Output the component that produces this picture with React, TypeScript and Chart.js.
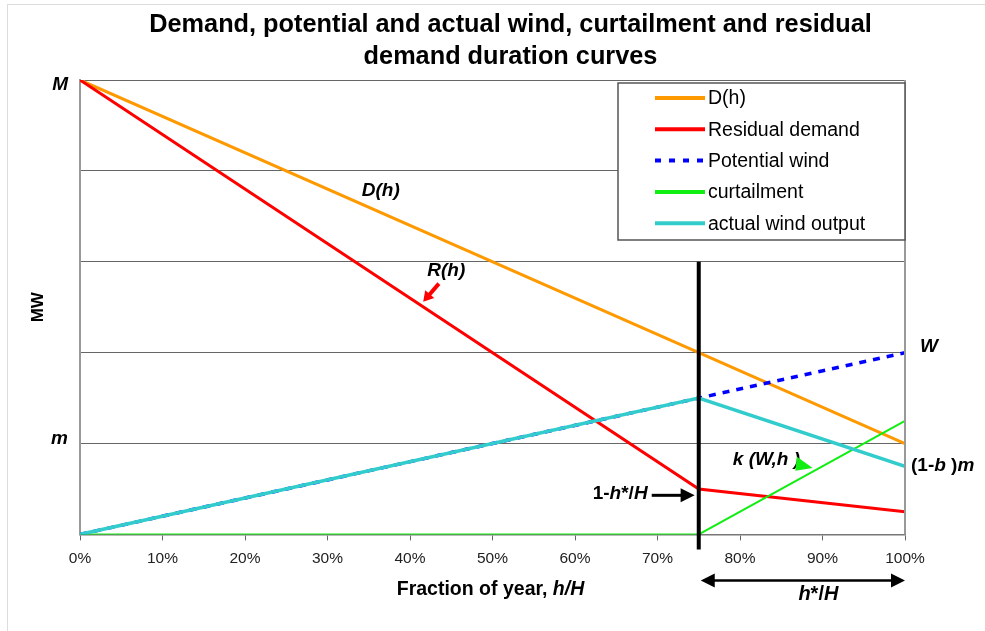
import React, { useEffect, useRef } from 'react';
import { Chart, registerables } from 'chart.js';

Chart.register(...registerables);

const FONT = '"Liberation Sans", Arial, Helvetica, sans-serif';

const titleLines = ['Demand, potential and actual wind, curtailment and residual', 'demand duration curves'];
const xFractions = [0, 0.75, 1];
const demandD = [5, 2, 1];
const residualDemand = [5, 0.5, 0.25];
const potentialWind = [0, 1.5, 2];
const curtailment = [0, 0, 1.25];
const actualWind = [0, 1.5, 0.75];
const xTickLabels = ['0%', '10%', '20%', '30%', '40%', '50%', '60%', '70%', '80%', '90%', '100%'];
const seriesNames = ['D(h)', 'Residual demand', 'Potential wind', 'curtailment', 'actual wind output'];
const seriesColors = ['#FF9900', '#FF0000', '#0000FF', '#11EE11', '#33CCCC'];
const hStar = 0.75;

const toPoints = (ys: number[]) => xFractions.map((x, i) => ({ x, y: ys[i] }));

type Seg = { t: string; i?: boolean };

function drawRich(ctx: CanvasRenderingContext2D, segs: Seg[], x: number, y: number, align: 'left' | 'center' | 'right', size: number) {
  const fontFor = (s: Seg) => `${s.i ? 'italic ' : ''}bold ${size}px ${FONT}`;
  let total = 0;
  const widths = segs.map((s) => {
    ctx.font = fontFor(s);
    const w = ctx.measureText(s.t).width;
    total += w;
    return w;
  });
  let cx = align === 'left' ? x : align === 'center' ? x - total / 2 : x - total;
  ctx.textAlign = 'left';
  ctx.textBaseline = 'middle';
  segs.forEach((s, k) => {
    ctx.font = fontFor(s);
    ctx.fillText(s.t, cx, y);
    cx += widths[k];
  });
}

function drawArrow(ctx: CanvasRenderingContext2D, x1: number, y1: number, x2: number, y2: number, color: string, lw: number, hl: number, hw: number, both = false) {
  const ang = Math.atan2(y2 - y1, x2 - x1);
  const cos = Math.cos(ang);
  const sin = Math.sin(ang);
  ctx.save();
  ctx.strokeStyle = color;
  ctx.fillStyle = color;
  ctx.lineWidth = lw;
  ctx.beginPath();
  const sx = both ? x1 + cos * hl * 0.9 : x1;
  const sy = both ? y1 + sin * hl * 0.9 : y1;
  ctx.moveTo(sx, sy);
  ctx.lineTo(x2 - cos * hl * 0.9, y2 - sin * hl * 0.9);
  ctx.stroke();
  const head = (tx: number, ty: number, c: number, s: number) => {
    ctx.beginPath();
    ctx.moveTo(tx, ty);
    ctx.lineTo(tx - c * hl - s * hw / 2, ty - s * hl + c * hw / 2);
    ctx.lineTo(tx - c * hl + s * hw / 2, ty - s * hl - c * hw / 2);
    ctx.closePath();
    ctx.fill();
  };
  head(x2, y2, cos, sin);
  if (both) head(x1, y1, -cos, -sin);
  ctx.restore();
}

const overlay = {
  id: 'overlay',
  beforeDraw(chart: any) {
    const ctx = chart.ctx as CanvasRenderingContext2D;
    ctx.save();
    ctx.fillStyle = '#ffffff';
    ctx.fillRect(0, 0, chart.width, chart.height);
    ctx.strokeStyle = '#dddddd';
    ctx.lineWidth = 1;
    ctx.beginPath();
    ctx.moveTo(7.5, 5);
    ctx.lineTo(7.5, chart.height);
    ctx.moveTo(7, 4.5);
    ctx.lineTo(chart.width, 4.5);
    ctx.stroke();
    ctx.restore();
  },
  afterDatasetsDraw(chart: any) {
    const ctx = chart.ctx as CanvasRenderingContext2D;
    const xs = chart.scales.x;
    const ys = chart.scales.y;
    const ca = chart.chartArea;
    const px = (v: number) => xs.getPixelForValue(v);
    const py = (v: number) => ys.getPixelForValue(v);
    ctx.save();

    // right border of plot area
    ctx.strokeStyle = '#999999';
    ctx.lineWidth = 2;
    ctx.beginPath();
    ctx.moveTo(ca.right, ca.top);
    ctx.lineTo(ca.right, ca.bottom);
    ctx.stroke();

    // vertical h* marker
    ctx.strokeStyle = '#000000';
    ctx.lineWidth = 4;
    ctx.beginPath();
    ctx.moveTo(px(hStar), py(3));
    ctx.lineTo(px(hStar), ca.bottom + 15);
    ctx.stroke();

    ctx.fillStyle = '#000000';
    const S = 19;
    // M and m
    drawRich(ctx, [{ t: 'M', i: true }], ca.left - 12, py(5) + 5, 'right', S);
    drawRich(ctx, [{ t: 'm', i: true }], ca.left - 12, py(1) - 5, 'right', S);
    // D(h), R(h)
    drawRich(ctx, [{ t: 'D(h)', i: true }], px(0.3645), py(3.78), 'center', S);
    drawRich(ctx, [{ t: 'R(h)', i: true }], px(0.444), py(2.9), 'center', S);
    drawArrow(ctx, px(0.435), py(2.76), px(0.416), py(2.56), '#FF0000', 4, 10, 12);
    // W and (1-b)m
    drawRich(ctx, [{ t: 'W', i: true }], ca.right + 15, py(2.07), 'left', S);
    drawRich(ctx, [{ t: '(1-' }, { t: 'b', i: true }, { t: ' )' }, { t: 'm', i: true }], ca.right + 6, py(0.75), 'left', S);
    // k(W,h)
    drawRich(ctx, [{ t: 'k (W,h )', i: true }], px(0.832), py(0.82), 'center', S);
    ctx.fillStyle = '#11EE11';
    ctx.beginPath();
    ctx.moveTo(px(0.869), py(0.855));
    ctx.lineTo(px(0.867), py(0.70));
    ctx.lineTo(px(0.888), py(0.73));
    ctx.closePath();
    ctx.fill();
    // 1-h*/H
    ctx.fillStyle = '#000000';
    drawRich(ctx, [{ t: '1-' }, { t: 'h', i: true }, { t: '*/' }, { t: 'H', i: true }], px(0.688), py(0.45), 'right', S);
    drawArrow(ctx, px(0.693), py(0.43), px(0.745), py(0.43), '#000000', 3, 14, 14);
    // h*/H double arrow
    drawArrow(ctx, px(hStar) + 2, ca.bottom + 46, px(1), ca.bottom + 46, '#000000', 2.5, 14, 14, true);
    drawRich(ctx, [{ t: 'h', i: true }, { t: '*/' }, { t: 'H', i: true }], px(0.895), ca.bottom + 60, 'center', 20);

    // legend
    const lx = ca.right - 287;
    const ly = ca.top + 3;
    ctx.fillStyle = '#ffffff';
    ctx.fillRect(lx, ly, 287, 157);
    ctx.strokeStyle = '#555555';
    ctx.lineWidth = 1.5;
    ctx.strokeRect(lx, ly, 287, 157);
    seriesNames.forEach((name, k) => {
      const yy = ly + 15 + k * 31.3;
      ctx.strokeStyle = seriesColors[k];
      ctx.lineWidth = 4;
      ctx.setLineDash(k === 2 ? [6, 8] : []);
      ctx.beginPath();
      ctx.moveTo(lx + 37, yy);
      ctx.lineTo(lx + 87, yy);
      ctx.stroke();
      ctx.setLineDash([]);
      ctx.fillStyle = '#000000';
      ctx.font = `19.5px ${FONT}`;
      ctx.textAlign = 'left';
      ctx.textBaseline = 'middle';
      ctx.fillText(name, lx + 90, yy + 1);
    });
    ctx.restore();
  },
  afterDraw(chart: any) {
    const ctx = chart.ctx as CanvasRenderingContext2D;
    const ca = chart.chartArea;
    ctx.save();
    ctx.fillStyle = '#000000';
    ctx.textAlign = 'center';
    ctx.textBaseline = 'middle';
    ctx.font = `bold 25.3px ${FONT}`;
    const cx = chart.width / 2 + 18;
    ctx.fillText(titleLines[0], cx, 25);
    ctx.fillText(titleLines[1], cx, 57);
    // x axis title
    drawRich(ctx, [{ t: 'Fraction of year, ' }, { t: 'h/H', i: true }], (ca.left + ca.right) / 2 - 2, ca.bottom + 55, 'center', 19.5);
    // y axis title
    ctx.translate(38, (ca.top + ca.bottom) / 2);
    ctx.rotate(-Math.PI / 2);
    ctx.font = `bold 17px ${FONT}`;
    ctx.textAlign = 'center';
    ctx.textBaseline = 'middle';
    ctx.fillText('MW', 0, 0);
    ctx.restore();
  },
};

export default function App() {
  const canvasRef = useRef<HTMLCanvasElement | null>(null);

  useEffect(() => {
    if (!canvasRef.current) return;
    const common = { pointRadius: 0, pointHoverRadius: 0, tension: 0, fill: false, borderCapStyle: 'butt' as const };
    const chart = new Chart(canvasRef.current, {
      type: 'line',
      data: {
        datasets: [
          { ...common, label: seriesNames[0], data: toPoints(demandD), borderColor: seriesColors[0], borderWidth: 3, order: 5 },
          { ...common, label: seriesNames[1], data: toPoints(residualDemand), borderColor: seriesColors[1], borderWidth: 3, order: 4 },
          { ...common, label: seriesNames[2], data: toPoints(potentialWind), borderColor: seriesColors[2], borderWidth: 3.5, borderDash: [7, 7], order: 3 },
          { ...common, label: seriesNames[3], data: toPoints(curtailment), borderColor: seriesColors[3], borderWidth: 2, order: 2 },
          { ...common, label: seriesNames[4], data: toPoints(actualWind), borderColor: seriesColors[4], borderWidth: 3.5, order: 1 },
        ],
      },
      options: {
        animation: false,
        responsive: false,
        maintainAspectRatio: false,
        events: [],
        layout: { padding: { left: 80, top: 80, right: 80, bottom: 54 } },
        plugins: { legend: { display: false }, title: { display: false }, tooltip: { enabled: false } },
        scales: {
          x: {
            type: 'linear',
            min: 0,
            max: 1,
            ticks: {
              stepSize: 0.1,
              padding: 9,
              color: '#222222',
              font: { family: FONT, size: 15.5 },
              maxRotation: 0,
              callback: (_v: any, i: number) => xTickLabels[i],
            },
            grid: { drawOnChartArea: false, drawTicks: true, tickLength: 6, color: '#666666' },
            border: { display: true, color: '#777777', width: 1.5 },
          },
          y: {
            type: 'linear',
            min: 0,
            max: 5,
            ticks: { stepSize: 1, display: false },
            grid: { drawTicks: false, color: '#666666', lineWidth: 1 },
            border: { display: true, color: '#999999', width: 2 },
          },
        },
      },
      plugins: [overlay],
    });
    return () => chart.destroy();
  }, []);

  return (
    <div style={{ position: 'fixed', left: 0, top: 0, width: 985, height: 631, background: '#fff' }}>
      <canvas ref={canvasRef} width={985} height={631} style={{ width: 985, height: 631, display: 'block' }} />
    </div>
  );
}
